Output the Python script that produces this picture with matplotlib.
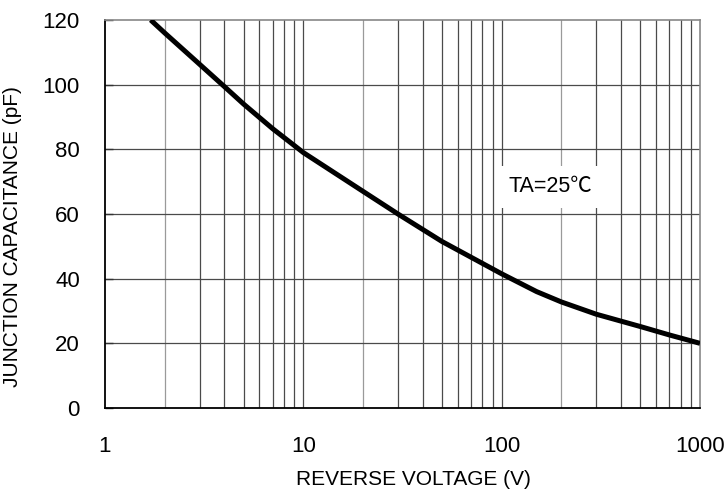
import matplotlib
matplotlib.use("Agg")
import matplotlib.pyplot as plt
from matplotlib.ticker import FixedLocator, NullFormatter

# reverse voltage (V) and junction capacitance (pF)
voltage = [1.7, 2, 3, 4, 5, 7, 10, 20, 30, 50, 100, 150, 200, 300, 500, 700, 1000]
capacitance = [120, 116, 106.3, 99.4, 94.0, 86.4, 79, 67, 60, 51.5, 41.5, 36.0, 32.8, 29, 25.2, 22.6, 20]

x_ticks = [1, 10, 100, 1000]
x_tick_labels = ["1", "10", "100", "1000"]
y_ticks = [0, 20, 40, 60, 80, 100, 120]

plt.rcParams['font.family'] = ['Liberation Sans', 'Noto Sans CJK SC', 'DejaVu Sans']

fig = plt.figure(figsize=(7.28, 4.97), dpi=100)
ax = fig.add_axes([105 / 728, 1 - 408 / 497, 595 / 728, 388 / 497])

ax.set_xscale("log")
ax.set_xlim(1, 1000)
ax.set_ylim(0, 120)

# grid: every minor decade step vertically, every 20 pF horizontally
for decade in [1, 10, 100]:
    for m in range(2, 11):
        v = decade * m
        if v >= 1000:
            continue
        col = "#9a9a9a" if m == 2 else "#4a4a4a"
        ax.axvline(v, color=col, lw=0.9, zorder=1)
for y in y_ticks[1:-1]:
    ax.axhline(y, color="#4a4a4a", lw=0.9, zorder=1)

ax.plot(voltage, capacitance, color="black", lw=3.6, solid_capstyle="butt",
        solid_joinstyle="round", zorder=3)

ax.xaxis.set_major_locator(FixedLocator(x_ticks))
ax.set_xticklabels(x_tick_labels)
ax.xaxis.set_minor_formatter(NullFormatter())
ax.tick_params(axis="x", which="both", length=0, pad=20, labelsize=16)
ax.set_yticks(y_ticks)
ax.tick_params(axis="y", direction="in", length=6, width=1, color="#333333", pad=18, labelsize=16)

for side in ["top", "right"]:
    ax.spines[side].set_color("#888888")
    ax.spines[side].set_linewidth(1.2)
for side in ["left", "bottom"]:
    ax.spines[side].set_color("black")
    ax.spines[side].set_linewidth(1.3)

ax.set_xlabel("REVERSE VOLTAGE (V)", fontsize=15)
ax.set_ylabel("JUNCTION CAPACITANCE (pF)", fontsize=15)
ax.xaxis.set_label_coords(0.518, -0.16)
ax.yaxis.set_label_coords(-0.139, 0.441)

ax.text(177, 68.4, "TA=25℃", fontsize=15.5, ha="center", va="center", zorder=2,
        bbox=dict(boxstyle="square,pad=0.5", facecolor="white", edgecolor="none"))

fig.savefig("out.png", dpi=100)
